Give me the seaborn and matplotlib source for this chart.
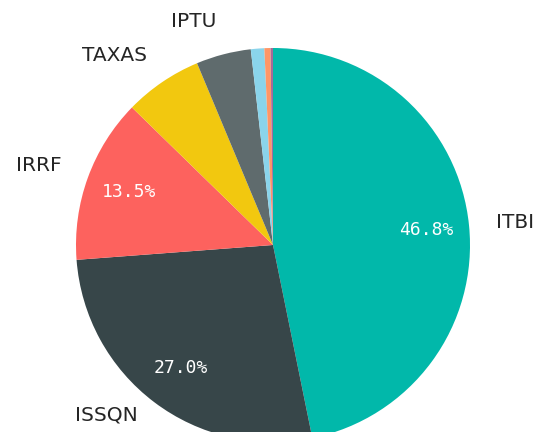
import matplotlib
matplotlib.use("Agg")
import matplotlib.pyplot as plt
import matplotlib.transforms as mtransforms
import seaborn as sns

# dados (% do total)
categorias = ['ITBI', 'ISSQN', 'IRRF', 'TAXAS', 'IPTU', '', '', '']
valores = [46.8, 27.0, 13.5, 6.4, 4.5, 1.1, 0.5, 0.2]
cores = ['#01B8AA', '#374649', '#FD625E', '#F2C80F', '#5F6B6D',
         '#8AD4EB', '#FE9666', '#A66999']

sns.set_theme(style="white")
plt.rcParams['font.family'] = ['DejaVu Sans', 'DejaVu Sans Mono']

fig = plt.figure(figsize=(5.4, 4.32), dpi=100)
ax = fig.add_axes([0, 0, 1, 1])

paleta = sns.color_palette(cores)


def rotulo(pct):
    return f'{pct:.1f}%' if pct >= 10 else ''


wedges, textos, pcts = ax.pie(
    valores, labels=categorias, colors=paleta, startangle=90,
    counterclock=False, autopct=rotulo, pctdistance=0.78,
    labeldistance=1.14, radius=1,
    wedgeprops=dict(linewidth=0, edgecolor='none'),
    textprops=dict(fontsize=14.5, color='#252525'))

for t in pcts:
    t.set_color('white')
    t.set_fontsize(13)
    t.set_fontfamily('DejaVu Sans Mono')

# pequenos ajustes verticais dos rótulos (em pixels)
ajustes = {'ISSQN': 9, 'IPTU': 6, 'TAXAS': 4, 'IRRF': 3}
for t in textos:
    dy = ajustes.get(t.get_text(), 0)
    if dy:
        t.set_transform(mtransforms.offset_copy(ax.transData, fig=fig,
                                                y=dy, units='dots'))

# enquadramento: centro em (273, 245) px, raio 197 px
ax.set_xlim(-273 / 197, (540 - 273) / 197)
ax.set_ylim(-(432 - 245) / 197, 245 / 197)
ax.set_aspect('equal', adjustable='box')
ax.axis('off')

fig.savefig('out.png', dpi=100)
